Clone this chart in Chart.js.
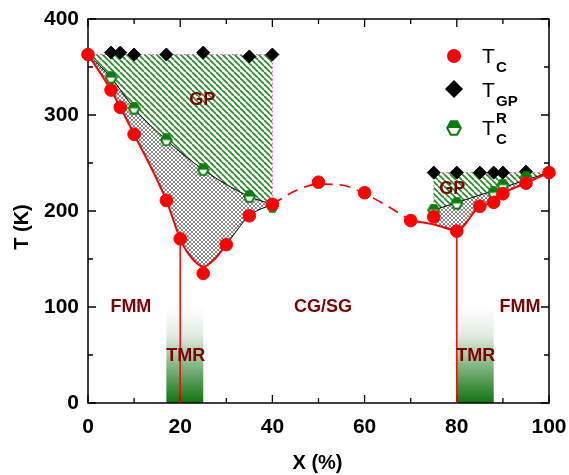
<!DOCTYPE html>
<html>
<head>
<meta charset="utf-8">
<script src="https://cdn.jsdelivr.net/npm/chart.js@4.4.1/dist/chart.umd.min.js"></script>
<style>
    html, body { margin: 0; padding: 0; background: #fff; }
</style>
</head>
<body>
<canvas id="phaseChart" width="569" height="475"></canvas>
<script>
// measured points (X in %, T in K)
const tcX  = [0, 5, 7, 10, 17, 20, 25, 30, 35, 40, 50, 60, 70, 75, 80, 85, 88, 90, 95, 100];
const tcT  = [363, 326, 308, 280, 211, 171, 135, 165, 195, 207, 230, 219, 190, 194, 179, 205, 209, 218, 229, 240];
const gpX  = [5, 7, 10, 17, 25, 35, 40, 75, 80, 85, 88, 90, 95];
const gpT  = [365, 365, 363, 363, 365, 361, 363, 240, 240, 240, 240, 240, 241];
const tcrX = [5, 10, 17, 25, 35, 40, 75, 80, 88, 90, 95];
const tcrT = [339, 307, 274, 243, 215, 205, 201, 208, 219, 227, 235];

// guide curves
const leftFitX  = [0, 5, 7, 10, 17, 20, 22, 25, 27.5, 30, 35, 40];
const leftFitT  = [363, 326, 308, 280, 211, 171, 154, 142, 150, 165, 195, 207];
const midFitX   = [40, 45, 50, 55, 60, 65, 70];
const midFitT   = [207, 221, 228, 227, 218, 205, 190];
const rightFitX = [70, 75, 80, 85, 88, 90, 95, 100];
const rightFitT = [190, 186, 180, 205, 209, 218, 229, 240];
const leftRX  = [0, 5, 10, 17, 25, 35, 40];
const leftRT  = [363, 339, 307, 274, 243, 215, 207];
const rightRX = [75, 100];
const rightRT = [201, 240];
const leftGpX  = [0, 40];
const leftGpT  = [363, 363];
const rightGpX = [75, 100];
const rightGpT = [240, 240];
const leftEdgeX  = [40, 40];
const leftEdgeT  = [363, 207];
const rightEdgeX = [75, 75];
const rightEdgeT = [240, 201];
const vline20T = [0, 171];
const vline80T = [0, 179];

// TMR bands
const tmrFrom = [17, 80];
const tmrTo   = [25, 88];
const tmrTop  = 100;

// region labels
const regionText = ['GP', 'GP', 'FMM', 'FMM', 'CG/SG', 'TMR', 'TMR'];
const regionX    = [24.8, 79, 9.3, 93.7, 51, 21.2, 84.1];
const regionT    = [316, 223, 100, 100, 100, 49, 49];

const xTicks = [0, 20, 40, 60, 80, 100];
const yTicks = [0, 100, 200, 300, 400];

const FONT = '"Liberation Sans", Arial, sans-serif';
const RED = '#ff0000';
const GREEN = '#0a7d0a';
const DARKRED = '#7f0000';
const PINK = '#ff66cc';

function pts(xs, ys) {
    return xs.map((x, i) => ({ x: x, y: ys[i] }));
}

function makeHatch() {
    const c = document.createElement('canvas');
    c.width = 6; c.height = 6;
    const g = c.getContext('2d');
    g.strokeStyle = '#1f8a1f';
    g.lineWidth = 1.6;
    [-6, 0, 6].forEach(k => {
        g.beginPath(); g.moveTo(k, 0); g.lineTo(k + 6, 6); g.stroke();
    });
    return g.createPattern(c, 'repeat');
}

function makeCross() {
    const c = document.createElement('canvas');
    c.width = 4; c.height = 4;
    const g = c.getContext('2d');
    g.fillStyle = '#fff';
    g.fillRect(0, 0, 4, 4);
    g.strokeStyle = '#7a7a7a';
    g.lineWidth = 0.9;
    [-4, 0, 4].forEach(k => {
        g.beginPath(); g.moveTo(k, 0); g.lineTo(k + 4, 4); g.stroke();
        g.beginPath(); g.moveTo(k, 4); g.lineTo(k + 4, 0); g.stroke();
    });
    return g.createPattern(c, 'repeat');
}

function makeHex(size) {
    const c = document.createElement('canvas');
    c.width = size; c.height = size;
    const g = c.getContext('2d');
    const m = 1.2, w = size - 2 * m, cy = size / 2;
    const path = () => {
        g.beginPath();
        g.moveTo(m, cy);
        g.lineTo(m + w * 0.27, m);
        g.lineTo(m + w * 0.73, m);
        g.lineTo(size - m, cy);
        g.lineTo(m + w * 0.73, size - m);
        g.lineTo(m + w * 0.27, size - m);
        g.closePath();
    };
    path(); g.fillStyle = '#fff'; g.fill();
    g.save(); path(); g.clip();
    g.fillStyle = GREEN; g.fillRect(0, 0, size, cy);
    g.restore();
    path(); g.strokeStyle = GREEN; g.lineWidth = 2; g.stroke();
    return c;
}

const hatch = makeHatch();
const cross = makeCross();
const hexSmall = makeHex(13);
const hexBig = makeHex(16);

function lineSet(data, extra) {
    return Object.assign({
        data: data,
        pointRadius: 0,
        fill: false,
        borderWidth: 1,
        borderColor: '#000',
        backgroundColor: 'transparent'
    }, extra);
}

// frame, ticks, TMR bands
const decorPlugin = {
    id: 'decor',
    beforeDatasetsDraw(chart) {
        const { ctx, chartArea: a, scales: { x, y } } = chart;
        ctx.save();
        tmrFrom.forEach((from, i) => {
            const x0 = x.getPixelForValue(from), x1 = x.getPixelForValue(tmrTo[i]);
            const yTop = y.getPixelForValue(tmrTop), yBot = y.getPixelForValue(0);
            const grad = ctx.createLinearGradient(0, yTop, 0, yBot);
            grad.addColorStop(0, 'rgba(255,255,255,1)');
            grad.addColorStop(0.3, 'rgb(225,236,225)');
            grad.addColorStop(1, 'rgb(16,115,16)');
            ctx.fillStyle = grad;
            ctx.fillRect(x0, yTop, x1 - x0, yBot - yTop);
        });

        ctx.strokeStyle = '#000';
        ctx.lineWidth = 1.5;
        ctx.strokeRect(a.left, a.top, a.right - a.left, a.bottom - a.top);
        ctx.lineWidth = 1.3;
        for (let v = 0; v <= 400; v += 50) {
            const len = v % 100 === 0 ? 8 : 5;
            const py = y.getPixelForValue(v);
            ctx.beginPath();
            ctx.moveTo(a.left, py); ctx.lineTo(a.left + len, py);
            ctx.moveTo(a.right, py); ctx.lineTo(a.right - len, py);
            ctx.stroke();
        }
        for (let v = 0; v <= 100; v += 10) {
            const len = v % 20 === 0 ? 8 : 5;
            const px = x.getPixelForValue(v);
            ctx.beginPath();
            ctx.moveTo(px, a.bottom); ctx.lineTo(px, a.bottom - len);
            ctx.moveTo(px, a.top); ctx.lineTo(px, a.top + len);
            ctx.stroke();
        }
        ctx.restore();
    },
    afterDatasetsDraw(chart) {
        const { ctx, scales: { x, y } } = chart;
        ctx.save();
        ctx.fillStyle = DARKRED;
        ctx.font = 'bold 18px ' + FONT;
        ctx.textAlign = 'center';
        ctx.textBaseline = 'middle';
        regionText.forEach((t, i) => {
            ctx.fillText(t, x.getPixelForValue(regionX[i]), y.getPixelForValue(regionT[i]));
        });
        ctx.restore();
    },
    afterDraw(chart) {
        const { ctx, chartArea: a } = chart;
        ctx.save();
        // axis titles
        ctx.fillStyle = '#000';
        ctx.font = 'bold 20px ' + FONT;
        ctx.textAlign = 'center';
        ctx.textBaseline = 'middle';
        ctx.fillText('X (%)', (a.left + a.right) / 2 - 1, 463);
        ctx.translate(22, 227);
        ctx.rotate(-Math.PI / 2);
        ctx.fillText('T (K)', 0, 0);
        ctx.restore();

        // legend
        ctx.save();
        const mx = 454;
        ctx.fillStyle = RED;
        ctx.beginPath(); ctx.arc(mx, 56, 7, 0, Math.PI * 2); ctx.fill();
        ctx.fillStyle = '#000';
        ctx.beginPath();
        ctx.moveTo(mx, 80); ctx.lineTo(mx + 9, 89); ctx.lineTo(mx, 98); ctx.lineTo(mx - 9, 89);
        ctx.closePath(); ctx.fill();
        ctx.drawImage(hexBig, mx - 8, 128 - 8);

        const tx = 482;
        const label = (base, sub, sup) => {
            ctx.fillStyle = '#000';
            ctx.textAlign = 'left';
            ctx.textBaseline = 'alphabetic';
            ctx.font = '21px ' + FONT;
            ctx.fillText('T', tx, base);
            ctx.font = 'bold 15px ' + FONT;
            ctx.fillText(sub, tx + 14, base + 9);
            if (sup) ctx.fillText(sup, tx + 14, base - 12);
        };
        label(63, 'C');
        label(97, 'GP');
        label(135, 'C', 'R');
        ctx.restore();
    }
};

const datasets = [
    // 0..2 markers (drawn last)
    { data: pts(tcX, tcT), showLine: false, pointStyle: 'circle', pointRadius: 6.3,
      backgroundColor: RED, borderColor: RED, borderWidth: 1, clip: false },
    { data: pts(tcrX, tcrT), showLine: false, pointStyle: hexSmall, pointRadius: 6, clip: false },
    { data: pts(gpX, gpT), showLine: false, pointStyle: 'rectRot', pointRadius: 6.5,
      backgroundColor: '#000', borderColor: '#000', borderWidth: 1, clip: false },
    // 3 left Tc curve (red, black above 30%)
    lineSet(pts(leftFitX, leftFitT), {
        cubicInterpolationMode: 'monotone',
        borderColor: RED, borderWidth: 2,
        segment: {
            borderColor: c => c.p0.parsed.x >= 30 ? '#000' : RED,
            borderWidth: c => c.p0.parsed.x >= 30 ? 1 : 2
        }
    }),
    // 4 left Tc^R boundary, crosshatch down to 3
    lineSet(pts(leftRX, leftRT), { cubicInterpolationMode: 'monotone', fill: 3, backgroundColor: cross }),
    // 5 left GP top, hatch down to 4
    lineSet(pts(leftGpX, leftGpT), { borderColor: PINK, borderDash: [2, 2], fill: 4, backgroundColor: hatch }),
    // 6 left edge
    lineSet(pts(leftEdgeX, leftEdgeT), { borderColor: PINK, borderDash: [2, 2] }),
    // 7 dashed middle
    lineSet(pts(midFitX, midFitT), { cubicInterpolationMode: 'monotone', borderColor: RED, borderWidth: 1.6, borderDash: [11, 7] }),
    // 8 right Tc curve
    lineSet(pts(rightFitX, rightFitT), { cubicInterpolationMode: 'monotone', borderColor: RED, borderWidth: 2 }),
    // 9 right Tc^R boundary, crosshatch down to 8
    lineSet(pts(rightRX, rightRT), { fill: 8, backgroundColor: cross }),
    // 10 right GP top, hatch down to 9
    lineSet(pts(rightGpX, rightGpT), { borderColor: PINK, borderDash: [2, 2], fill: 9, backgroundColor: hatch }),
    // 11 right edge
    lineSet(pts(rightEdgeX, rightEdgeT), { borderColor: PINK, borderDash: [2, 2] }),
    // 12, 13 vertical red lines
    lineSet(pts([20, 20], vline20T), { borderColor: RED, borderWidth: 1.5 }),
    lineSet(pts([80, 80], vline80T), { borderColor: RED, borderWidth: 1.5 })
];

new Chart(document.getElementById('phaseChart'), {
    type: 'line',
    data: { datasets: datasets },
    options: {
        responsive: false,
        animation: false,
        layout: { padding: { top: 19, right: 20, left: 0, bottom: 0 } },
        plugins: {
            legend: { display: false },
            tooltip: { enabled: false }
        },
        scales: {
            x: {
                type: 'linear',
                min: 0, max: 100,
                afterFit: s => { s.height = 72; s.paddingLeft = 0; s.paddingRight = 0; },
                afterBuildTicks: s => { s.ticks = xTicks.map(v => ({ value: v })); },
                grid: { display: false, drawTicks: false, tickLength: 0 },
                border: { display: false },
                ticks: { padding: 12, color: '#000', font: { family: FONT, size: 21, weight: 'bold' }, maxRotation: 0 }
            },
            y: {
                type: 'linear',
                min: 0, max: 400,
                afterFit: s => { s.width = 88; s.paddingTop = 0; s.paddingBottom = 0; },
                afterBuildTicks: s => { s.ticks = yTicks.map(v => ({ value: v })); },
                grid: { display: false, drawTicks: false, tickLength: 0 },
                border: { display: false },
                ticks: { padding: 9, color: '#000', font: { family: FONT, size: 21, weight: 'bold' } }
            }
        }
    },
    plugins: [decorPlugin]
});
</script>
</body>
</html>
